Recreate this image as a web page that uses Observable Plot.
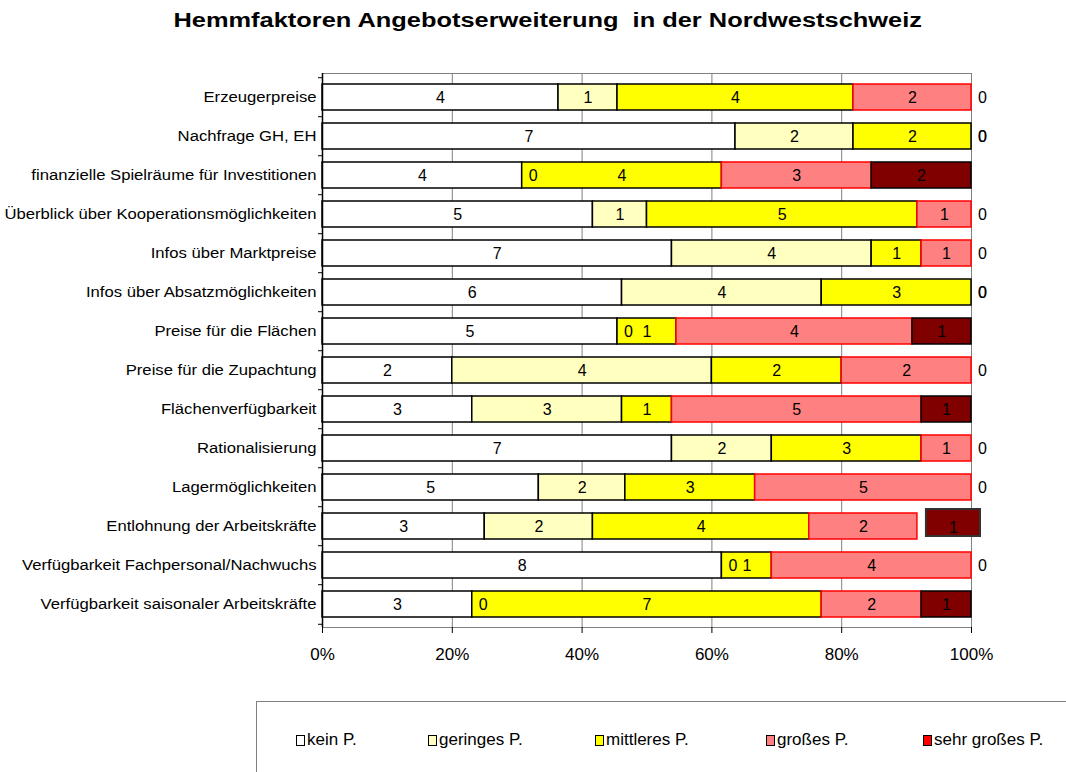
<!DOCTYPE html>
<html>
<head>
<meta charset="utf-8">
<script src="https://cdn.jsdelivr.net/npm/d3@7"></script>
<script src="https://cdn.jsdelivr.net/npm/@observablehq/plot@0.6"></script>
<style>
  body { margin: 0; background: #fff; font-family: "Liberation Sans", Arial, sans-serif; position: relative; width: 1066px; height: 772px; overflow: hidden; }
  #title { height: 40px; line-height: 40px; text-align: center; padding-left: 30px; }
  #title span { display: inline-block; font-weight: bold; font-size: 20px; white-space: pre; transform: scaleX(1.27); }
  #chart { position: absolute; top: 40px; left: 0; }
  #legend { position: absolute; left: 256px; top: 701px; width: 900px; height: 100px; border: 1px solid #808080; box-sizing: border-box; }
  .item { position: absolute; top: 28px; font-size: 17px; display: flex; align-items: center; }
  .sw { width: 7px; height: 9px; border: 1px solid #000; margin-right: 2px; }
</style>
</head>
<body>
<div id="title"><span>Hemmfaktoren Angebotserweiterung  in der Nordwestschweiz</span></div>
<div id="chart"></div>
<div id="legend"></div>
<script>
const categories = [
  "Erzeugerpreise",
  "Nachfrage GH, EH",
  "finanzielle Spielräume für Investitionen",
  "Überblick über Kooperationsmöglichkeiten",
  "Infos über Marktpreise",
  "Infos über Absatzmöglichkeiten",
  "Preise für die Flächen",
  "Preise für die Zupachtung",
  "Flächenverfügbarkeit",
  "Rationalisierung",
  "Lagermöglichkeiten",
  "Entlohnung der Arbeitskräfte",
  "Verfügbarkeit Fachpersonal/Nachwuchs",
  "Verfügbarkeit saisonaler Arbeitskräfte"
];
const seriesNames = ["kein P.", "geringes P.", "mittleres P.", "großes P.", "sehr großes P."];
const kein        = [4, 7, 4, 5, 7, 6, 5, 2, 3, 7, 5, 3, 8, 3];
const geringes    = [1, 2, 0, 1, 4, 4, 0, 4, 3, 2, 2, 2, 0, 0];
const mittleres   = [4, 2, 4, 5, 1, 3, 1, 2, 1, 3, 3, 4, 1, 7];
const grosses     = [2, 0, 3, 1, 1, 0, 4, 2, 5, 1, 5, 2, 4, 2];
const sehrGrosses = [0, 0, 2, 0, 0, 0, 1, 0, 1, 0, 0, 1, 0, 1];
const xTicks = [0, 0.2, 0.4, 0.6, 0.8, 1];
// the one segment that the reference shows shifted out of its place
const shiftedCat = "Entlohnung der Arbeitskräfte";
const shiftedSeries = "sehr großes P.";

const fillColors = ["#FFFFFF", "#FFFFC0", "#FFFF00", "#FF8080", "#800000"];
const strokeColors = ["#000000", "#000000", "#000000", "#FF0000", "#000000"];
const legendColors = ["#FFFFFF", "#FFFFC0", "#FFFF00", "#FF8080", "#FF0000"];

const seriesValues = [kein, geringes, mittleres, grosses, sehrGrosses];
const data = [];
categories.forEach((cat, i) => {
  seriesNames.forEach((s, j) => {
    data.push({cat, series: s, si: j, value: seriesValues[j][i],
               shifted: cat === shiftedCat && s === shiftedSeries});
  });
});

const stackOpts = (extra) => Plot.stackX({
  x: "value", y: "cat", z: "series", offset: "normalize", order: null, ...extra
});

const step = 554 / 14;

const chart = Plot.plot({
  width: 1066,
  height: 660,
  marginTop: 33,
  marginBottom: 73,
  marginLeft: 322,
  marginRight: 95,
  style: {fontFamily: "'Liberation Sans', Arial, sans-serif", fontSize: "16px", color: "#000", background: "transparent"},
  x: {domain: [0, 1]},
  y: {domain: categories, paddingInner: 0.34, paddingOuter: 0.17},
  color: {domain: seriesNames, range: fillColors},
  opacity: {type: "identity"},
  marks: [
    Plot.gridX(xTicks.slice(1), {stroke: "#808080", strokeOpacity: 1}),
    Plot.frame({stroke: "#808080"}),
    Plot.barX(data, stackOpts({
      fill: "series",
      stroke: d => strokeColors[d.si],
      fillOpacity: d => d.shifted ? 0 : 1,
      strokeOpacity: d => d.shifted ? 0 : 1,
      strokeWidth: 1.5
    })),
    Plot.barX(data, stackOpts({
      fill: "series",
      stroke: "#333",
      fillOpacity: d => d.shifted ? 1 : 0,
      strokeOpacity: d => d.shifted ? 1 : 0,
      strokeWidth: 2,
      dx: 9,
      dy: -3,
      insetTop: -1
    })),
    Plot.text(data, stackOpts({
      text: d => d.value > 0 && !d.shifted ? String(d.value) : null,
      fill: "#000",
      fontSize: 16
    })),
    Plot.text(data, stackOpts({
      text: d => d.shifted ? String(d.value) : null,
      fill: "#000",
      fontSize: 16,
      dx: 9,
      dy: 1
    })),
    Plot.text(data, stackOpts({
      text: d => d.value === 0 ? "0" : null,
      fill: "#000",
      fontSize: 16,
      dx: 11
    })),
    Plot.ruleX([0], {stroke: "#000", strokeWidth: 1.5}),
    Plot.axisY({tickSize: 0, tickPadding: 6, fontSize: 14, label: null}),
    Plot.axisY({tickSize: 4, text: null, label: null, dy: -step / 2}),
    Plot.axisY([categories[categories.length - 1]], {tickSize: 4, text: null, label: null, dy: step / 2}),
    Plot.axisX({ticks: xTicks, tickFormat: d3.format(".0%"), tickSize: 6, tickPadding: 14, fontSize: 17, label: null})
  ]
});
document.getElementById("chart").appendChild(chart);

// the reference's category labels are drawn wider than they are tall
chart.querySelectorAll('g[aria-label="y-axis tick label"] text').forEach(t => {
  const len = t.getComputedTextLength();
  if (len > 0) {
    t.setAttribute("textLength", (len * 1.19).toFixed(1));
    t.setAttribute("lengthAdjust", "spacingAndGlyphs");
  }
});

const legend = document.getElementById("legend");
const legendX = [39, 171, 338, 509, 666];
seriesNames.forEach((s, j) => {
  const item = document.createElement("div");
  item.className = "item";
  item.style.left = legendX[j] + "px";
  const sw = document.createElement("div");
  sw.className = "sw";
  sw.style.background = legendColors[j];
  const t = document.createElement("span");
  t.textContent = s;
  item.appendChild(sw);
  item.appendChild(t);
  legend.appendChild(item);
});
</script>
</body>
</html>
